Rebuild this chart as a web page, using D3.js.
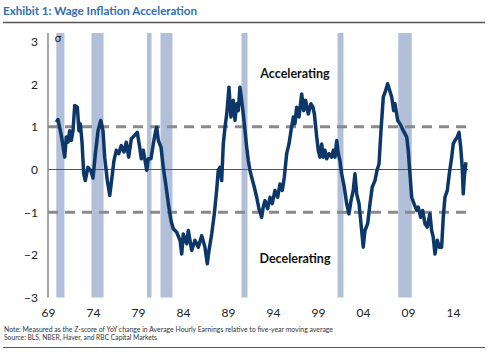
<!DOCTYPE html>
<html><head><meta charset="utf-8">
<script src="https://cdn.jsdelivr.net/npm/d3@7"></script>
<style>body{margin:0;background:#fff}svg{display:block}</style>
</head><body>
<svg id="c" width="488" height="356"></svg>
<script>
// ---- data ----
const years = [1969.92,1970.11,1970.48,1970.86,1971.03,1971.22,1971.41,1971.59,1971.78,1971.97,1972.26,1972.44,1972.59,1972.78,1972.97,1973.14,1973.44,1973.74,1974.00,1974.26,1974.56,1974.86,1975.11,1975.30,1975.59,1975.86,1976.11,1976.33,1976.59,1976.86,1977.14,1977.44,1977.70,1977.97,1978.26,1978.63,1978.92,1979.19,1979.37,1979.59,1979.97,1980.14,1980.44,1980.70,1980.97,1981.08,1981.26,1981.56,1981.81,1982.08,1982.37,1982.67,1982.92,1983.30,1983.67,1983.86,1984.03,1984.41,1984.59,1984.97,1985.33,1985.70,1986.08,1986.44,1986.70,1986.89,1987.19,1987.48,1987.74,1987.92,1988.11,1988.30,1988.48,1988.67,1988.86,1989.11,1989.33,1989.59,1989.78,1989.97,1990.14,1990.33,1990.52,1990.70,1990.89,1991.08,1991.26,1991.44,1991.63,1991.92,1992.19,1992.44,1992.74,1992.92,1993.11,1993.41,1993.67,1993.92,1994.22,1994.52,1994.78,1995.03,1995.26,1995.52,1995.78,1996.00,1996.26,1996.44,1996.63,1996.89,1997.19,1997.41,1997.63,1997.92,1998.22,1998.44,1998.60,1998.75,1998.86,1999.03,1999.22,1999.41,1999.59,1999.78,1999.97,2000.22,2000.52,2000.70,2000.89,2001.08,2001.26,2001.44,2001.63,2001.92,2002.19,2002.44,2002.67,2002.92,2003.11,2003.30,2003.56,2003.78,2004.03,2004.22,2004.52,2004.78,2005.03,2005.33,2005.56,2005.78,2006.00,2006.26,2006.52,2006.74,2006.97,2007.19,2007.41,2007.56,2007.86,2008.11,2008.48,2008.86,2009.03,2009.22,2009.41,2009.67,2009.97,2010.14,2010.41,2010.63,2010.89,2011.14,2011.44,2011.63,2011.81,2012.00,2012.26,2012.48,2012.74,2012.92,2013.11,2013.37,2013.59,2013.86,2014.03,2014.22,2014.48,2014.67,2014.86,2015.03,2015.14,2015.26,2015.44];
const zscore = [1.11,1.17,0.80,0.29,0.76,0.64,0.91,0.68,0.91,1.50,1.46,0.91,1.07,0.64,-0.10,-0.26,0.05,-0.02,-0.20,0.37,0.91,1.15,0.91,0.29,-0.26,-0.61,-0.18,0.21,0.45,0.37,0.56,0.41,0.64,0.29,0.72,0.80,0.87,0.52,0.25,0.45,-0.02,0.25,0.25,0.60,0.91,0.99,0.68,0.52,0.05,-0.34,-0.80,-1.20,-1.39,-1.47,-1.66,-1.98,-1.51,-1.74,-1.43,-1.90,-1.66,-1.82,-1.55,-1.82,-2.21,-1.90,-1.51,-1.04,-0.49,-0.02,0.05,-0.26,0.60,0.99,1.30,1.93,1.23,1.62,1.15,1.54,1.38,1.93,1.62,1.30,0.91,0.52,0.21,-0.02,-0.18,-0.41,-0.65,-0.92,-1.12,-0.88,-0.73,-0.92,-0.65,-0.80,-0.49,-0.65,-0.34,-0.49,-0.18,0.37,0.60,0.91,1.23,1.07,1.46,1.23,1.77,1.38,1.62,1.30,1.54,1.46,1.30,0.99,0.76,0.45,0.29,0.60,0.29,0.45,0.25,0.37,0.29,0.45,0.29,0.68,0.37,0.21,-0.10,-0.41,-0.80,-1.04,-0.73,-0.49,-0.10,-0.57,-0.80,-1.27,-1.82,-1.43,-1.27,-0.80,-0.41,-0.26,-0.02,0.13,0.91,1.70,1.85,2.01,1.85,1.70,1.38,1.54,1.15,1.07,0.91,0.76,0.45,-0.10,-0.65,-0.80,-0.96,-0.88,-1.12,-0.96,-1.27,-1.35,-1.04,-1.43,-1.59,-1.98,-1.66,-1.82,-1.82,-1.12,-0.65,-0.49,-0.10,0.29,0.60,0.68,0.76,0.87,0.52,0.05,-0.57,-0.18,0.17];
const recessionStart = [1969.92,1973.83,1980.0,1981.5,1990.5,2001.17,2007.92];
const recessionEnd   = [1970.83,1975.17,1980.5,1982.83,1991.17,2001.83,2009.42];
const yTicks = [-3,-2,-1,0,1,2,3];
const xTicks = [1969,1974,1979,1984,1989,1994,1999,2004,2009,2014];
const thresholds = [1,-1];

// ---- chart ----
const svg = d3.select("#c");
const x = d3.scaleLinear().domain([1969, 2015.67]).range([48, 468]);
const y = d3.scaleLinear().domain([-3, 3]).range([297.5, 41.5]);
const plotTop = 33;

// recession bands
svg.append("g").selectAll("rect").data(recessionStart).join("rect")
  .attr("x", (d,i) => x(d))
  .attr("width", (d,i) => x(recessionEnd[i]) - x(d))
  .attr("y", plotTop)
  .attr("height", y(-3) - plotTop)
  .attr("fill", "#b2bfd8");

// zero line
svg.append("line")
  .attr("x1", x(1969)).attr("x2", x.range()[1])
  .attr("y1", y(0)).attr("y2", y(0))
  .attr("stroke", "#555").attr("stroke-width", 1);

// dashed thresholds
svg.append("g").selectAll("line").data(thresholds).join("line")
  .attr("x1", x(1969)).attr("x2", x.range()[1])
  .attr("y1", d => y(d)).attr("y2", d => y(d))
  .attr("stroke", "#8a8a8a").attr("stroke-width", 3)
  .attr("stroke-dasharray", "10,7");

// y axis line
svg.append("line")
  .attr("x1", x(1969)).attr("x2", x(1969))
  .attr("y1", plotTop).attr("y2", y(-3))
  .attr("stroke", "#8a8a8a").attr("stroke-width", 1.5);

// y axis labels
const yAxis = d3.axisLeft(y).tickValues(yTicks).tickSize(0).tickPadding(10)
  .tickFormat(d3.format("d"));
const gy = svg.append("g").attr("transform", `translate(${x(1969)},0)`).call(yAxis);
gy.select(".domain").remove();
gy.selectAll("text").attr("font-family", "Lato, 'Open Sans', sans-serif")
  .attr("font-size", 12).attr("fill", "#222");

// x axis labels
const xAxis = d3.axisBottom(x).tickValues(xTicks).tickSize(0).tickPadding(11)
  .tickFormat(d => String(d).slice(2));
const gx = svg.append("g").attr("transform", `translate(0,${y(-3)})`).call(xAxis);
gx.select(".domain").remove();
gx.selectAll("text").attr("font-family", "Lato, 'Open Sans', sans-serif")
  .attr("font-size", 12).attr("fill", "#222");

// series line
const line = d3.line().x((d,i) => x(years[i])).y(d => y(d));
svg.append("path").datum(zscore)
  .attr("d", line)
  .attr("fill", "none").attr("stroke", "#0c3768")
  .attr("stroke-width", 3.5).attr("stroke-linejoin", "round");

// annotations
const ann = svg.append("g").attr("font-family", "Lato, 'Open Sans', sans-serif")
  .attr("font-weight", "bold").attr("font-size", 12.5).attr("fill", "#111")
  .attr("text-anchor", "middle");
ann.append("text").attr("x", 295).attr("y", 78).text("Accelerating");
ann.append("text").attr("x", 295).attr("y", 263).text("Decelerating");

svg.append("text").attr("x", 58).attr("y", 42).attr("text-anchor", "middle")
  .attr("font-family", "'DejaVu Sans', sans-serif").attr("font-size", 11)
  .attr("fill", "#222").text("σ");

// title
svg.append("text").attr("x", 3).attr("y", 15)
  .attr("font-family", "Lato, 'Open Sans', sans-serif").attr("font-weight", "bold")
  .attr("font-size", 11.5).attr("fill", "#2f6db3")
  .attr("textLength", 194).attr("lengthAdjust", "spacingAndGlyphs")
  .text("Exhibit 1: Wage Inflation Acceleration");
svg.append("line").attr("x1", 3).attr("x2", 485).attr("y1", 22.5).attr("y2", 22.5)
  .attr("stroke", "#555").attr("stroke-width", 1.5);

// notes
const notes = svg.append("g").attr("font-family", "Lato, 'Open Sans', sans-serif")
  .attr("font-size", 6.8).attr("fill", "#333");
notes.append("text").attr("x", 4).attr("y", 331.5)
  .attr("textLength", 329).attr("lengthAdjust", "spacingAndGlyphs")
  .text("Note: Measured as the Z-score of YoY change in Average Hourly Earnings relative to five-year moving average");
notes.append("text").attr("x", 4).attr("y", 340)
  .attr("textLength", 153).attr("lengthAdjust", "spacingAndGlyphs")
  .text("Source: BLS, NBER, Haver, and RBC Capital Markets");
svg.append("line").attr("x1", 3).attr("x2", 485).attr("y1", 347.5).attr("y2", 347.5)
  .attr("stroke", "#555").attr("stroke-width", 1.2);
</script>
</body></html>
